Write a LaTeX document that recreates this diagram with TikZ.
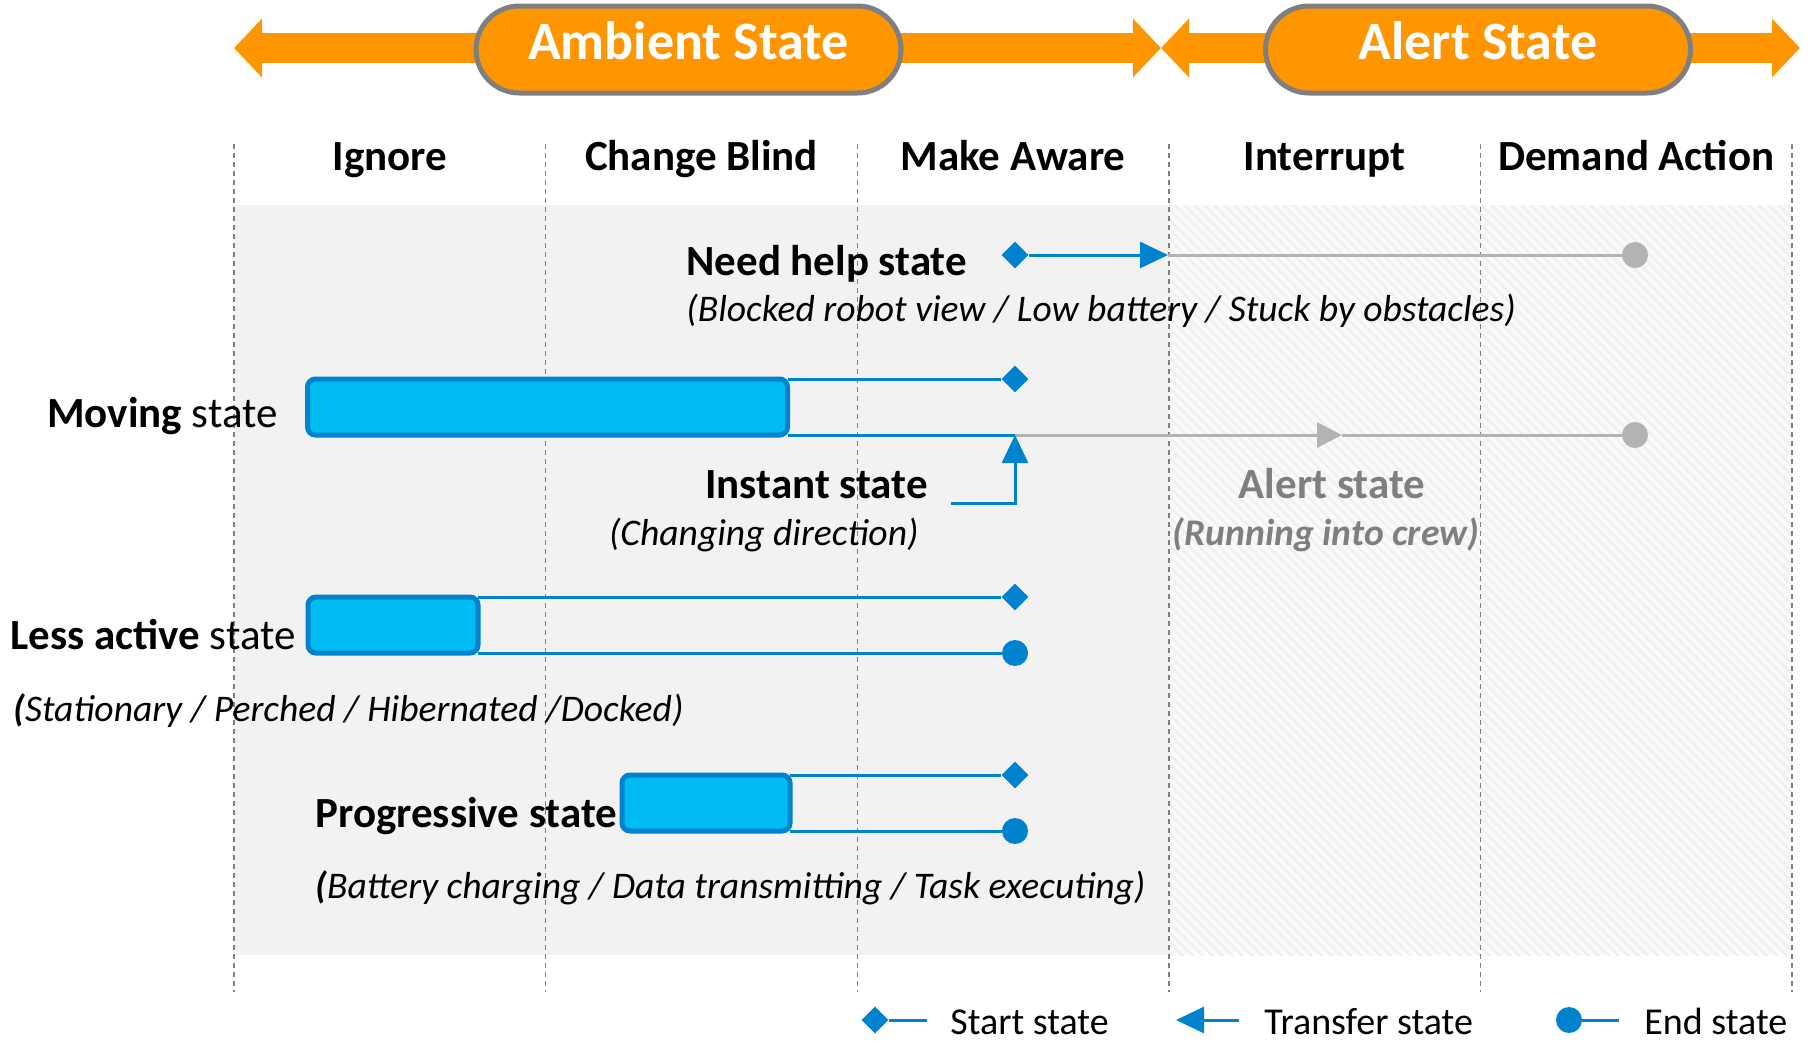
\documentclass[tikz,border=0pt]{standalone}
\usepackage{fontspec}
\setmainfont{Carlito}
\usetikzlibrary{arrows.meta,positioning,shapes.misc,shapes.geometric,patterns.meta}
\definecolor{ambor}{HTML}{FF9600}
\definecolor{pillgr}{HTML}{7F7F7F}
\definecolor{linkbl}{HTML}{0083CE}
\definecolor{barcy}{HTML}{00BCF2}
\definecolor{offgr}{HTML}{B3B3B3}
\definecolor{bggr}{HTML}{F2F2F2}

\begin{document}
\begin{tikzpicture}[x=0.5pt,y=-0.5pt,
  pill/.style={rounded rectangle,draw=pillgr,line width=2.5pt,fill=ambor,text=white,inner sep=0pt,
    minimum width=212.5pt,minimum height=43.5pt,text height=20pt,text depth=10pt,
    font=\fontsize{27}{30}\selectfont\bfseries},
  band/.style={ambor,line width=15pt,{Triangle[length=14pt,width=28.5pt]}-{Triangle[length=14pt,width=28.5pt]}},
  colhead/.style={font=\fontsize{21.5}{25}\selectfont\bfseries,anchor=base},
  lbl/.style={font=\fontsize{21.5}{25}\selectfont,inner sep=0pt},
  sub/.style={font=\fontsize{18.8}{22}\selectfont\itshape,inner sep=0pt},
  key/.style={font=\fontsize{19}{22}\selectfont,inner sep=0pt,anchor=base west},
  statebar/.style={draw=linkbl,fill=barcy,line width=2.5pt,rounded corners=4pt,anchor=north west,
    minimum height=28pt,inner sep=0pt,outer sep=0pt},
  startpt/.style={diamond,fill=linkbl,inner sep=0pt,minimum size=13.5pt},
  endpt/.style={circle,fill=linkbl,inner sep=0pt,minimum size=13pt},
  link/.style={linkbl,line width=1.5pt},
  offlink/.style={offgr,line width=1.5pt},
  xfer/.style={-{Triangle[length=14pt,width=13pt]}},
  colsep/.style={pillgr,line width=0.7pt,dash pattern=on 2.5pt off 2pt}
]
\useasboundingbox (0,0) rectangle (1808,1040);

% zones
\fill[bggr] (234,205) rectangle (1168,955);
\fill[white!98!black] (1168,205) rectangle (1792,955);
\fill[pattern={Lines[angle=-45,distance=3.5pt,line width=1.2pt]},pattern color=black!6] (1168,205) rectangle (1792,955);
\foreach \i in {0,...,5}
  \draw[colsep] ({234+311.6*\i},144) -- ({234+311.6*\i},992);

% states on top
\draw[band] (234,48) -- (1161,48);
\draw[band] (1161,48) -- (1800,48);
\node[pill] (amb) at (688.5,49.5) {Ambient State};
\node[pill] (alrt) at (1478,49.5) {Alert State};

\foreach \t [count=\i from 0] in {Ignore,Change Blind,Make Aware,Interrupt,Demand Action}
  \node[colhead] (col\i) at ({389.8+311.6*\i},170) {\t};

% need help
\node[lbl,anchor=base west] (nhtxt) at (686,275) {\bfseries Need help state};
\node[sub,anchor=base west] (nhsub) at (686,321) {(Blocked robot view / Low battery / Stuck by obstacles)};
\node[startpt] (nh0) at (1015,255) {};
\coordinate (nh1) at (1168,255);
\node[endpt,fill=offgr] (nh2) at (1635,255) {};
\draw[link,xfer] (nh0) -- (nh1);
\draw[offlink] (nh1) -- (nh2);

% moving
\node[statebar,minimum width=240pt] (mvbar) at (307.5,379) {};
\node[lbl,anchor=base east] (mvtxt) at (278,427) {\textbf{Moving} state};
\node[startpt] (mv0) at (1015,379) {};
\coordinate (mvT) at (1015,435);
\coordinate (mvA) at (1342,435);
\node[endpt,fill=offgr] (mv2) at (1635,435) {};
\draw[link] (mvbar.north east) -- (mv0);
\draw[link] (mvbar.south east) -- (mvT);
\draw[offlink,-{Triangle[length=12.5pt,width=12.5pt]}] (mvT) -- (mvA);
\draw[offlink] (mvA) -- (mv2);

% instant
\node[lbl,anchor=base east] (intxt) at (928,498) {\bfseries Instant state};
\node[sub,anchor=base east] (insub) at (919,545) {(Changing direction)};
\coordinate (instc) at (951,503);
\draw[link,xfer] (instc) -| (mvT);
\node[lbl,anchor=base,text=pillgr] (altxt) at (1332,498) {\bfseries Alert state};
\node[sub,anchor=base,text=pillgr] (alsub) at (1326,545) {\bfseries (Running into crew)};

% less active
\node[statebar,minimum width=85pt] (labar) at (308,597) {};
\node[lbl,anchor=base east] (latxt) at (296,649) {\textbf{Less active} state};
\node[sub,anchor=base west] (lasub) at (13,721) {\textbf{(}Stationary / Perched / Hibernated /Docked)};
\node[startpt] (la0) at (1015,597) {};
\node[endpt] (la1) at (1015,653) {};
\draw[link] (labar.north east) -- (la0);
\draw[link] (labar.south east) -- (la1);

% progressive
\node[statebar,minimum width=84pt] (pgbar) at (622,775) {};
\node[lbl,anchor=base west] (pgtxt) at (315,827) {\bfseries Progressive state};
\node[sub,anchor=base west] (pgsub) at (315,898) {\textbf{(}Battery charging / Data transmitting / Task executing)};
\node[startpt] (pg0) at (1015,775) {};
\node[endpt] (pg1) at (1015,831) {};
\draw[link] (pgbar.north east) -- (pg0);
\draw[link] (pgbar.south east) -- (pg1);

% legend
\node[startpt] (lgS) at (875,1020) {};
\coordinate (lgS1) at (927,1020);
\draw[link] (lgS) -- (lgS1);
\node[key] (lgStxt) at (950,1034) {Start state};
\coordinate (lgT0) at (1239,1020);
\coordinate (lgT1) at (1176,1020);
\draw[link,xfer] (lgT0) -- (lgT1);
\node[key] (lgTtxt) at (1264,1034) {Transfer state};
\node[endpt] (lgE) at (1569,1020) {};
\coordinate (lgE1) at (1619,1020);
\draw[link] (lgE) -- (lgE1);
\node[key] (lgEtxt) at (1644,1034) {End state};
\end{tikzpicture}
\end{document}
